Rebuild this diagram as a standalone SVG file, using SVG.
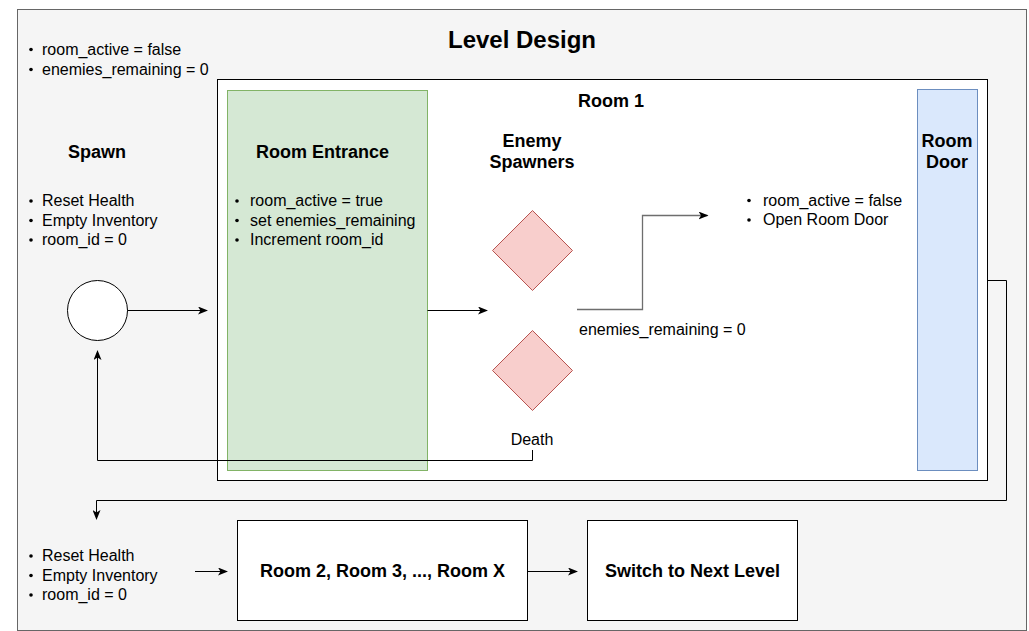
<svg xmlns="http://www.w3.org/2000/svg" width="1029" height="631" viewBox="0 0 1029 631">
<style>
text{font-family:"Liberation Sans",Arial,Helvetica,sans-serif;fill:#000;}
.t{font-size:16px;}
.b{font-size:18px;font-weight:bold;}
.h{font-size:24px;font-weight:bold;}
.dot{fill:#000;}
.ln{fill:none;stroke:#000;stroke-width:1;}
</style>
<defs>
<marker id="arr" viewBox="0 0 10 8" refX="9" refY="4" markerWidth="10" markerHeight="8" markerUnits="userSpaceOnUse" orient="auto">
<path d="M0,0 L10,4 L0,8 L2.5,4 z" fill="#000"/>
</marker>
</defs>
<g id="level">
<rect x="17.5" y="9.5" width="1009" height="621" fill="#f5f5f5" stroke="#666666"/>
<text class="h" x="522" y="48" text-anchor="middle">Level Design</text>
<circle class="dot" cx="31" cy="49.5" r="1.8"/><text class="t" x="42" y="54.5">room_active = false</text>
<circle class="dot" cx="31" cy="69.5" r="1.8"/><text class="t" x="42" y="74.5">enemies_remaining = 0</text>
</g>
<g id="room1">
<rect x="217.5" y="79.5" width="770" height="401" fill="#ffffff" stroke="#000"/>
<text class="b" x="611" y="107" text-anchor="middle">Room 1</text>
</g>
<g id="spawn">
<text class="b" x="97" y="157.5" text-anchor="middle">Spawn</text>
<circle class="dot" cx="31" cy="201" r="1.8"/><text class="t" x="42" y="206">Reset Health</text>
<circle class="dot" cx="31" cy="220.5" r="1.8"/><text class="t" x="42" y="225.5">Empty Inventory</text>
<circle class="dot" cx="31" cy="240" r="1.8"/><text class="t" x="42" y="245">room_id = 0</text>
<circle cx="97.5" cy="310.5" r="30" fill="#ffffff" stroke="#000"/>
</g>
<g id="entrance">
<rect x="227.5" y="90.5" width="200" height="380" fill="#d5e8d4" stroke="#82b366"/>
<text class="b" x="256" y="157.5">Room Entrance</text>
<circle class="dot" cx="237" cy="201" r="1.8"/><text class="t" x="250" y="206">room_active = true</text>
<circle class="dot" cx="237" cy="220.5" r="1.8"/><text class="t" x="250" y="225.5">set enemies_remaining</text>
<circle class="dot" cx="237" cy="240" r="1.8"/><text class="t" x="250" y="245">Increment room_id</text>
</g>
<g id="spawners">
<text class="b" x="532" y="146.5" text-anchor="middle">Enemy</text>
<text class="b" x="532" y="168" text-anchor="middle">Spawners</text>
<path d="M532.5,210.5 L572.5,250.5 L532.5,290.5 L492.5,250.5 Z" fill="#f8cecc" stroke="#b85450"/>
<path d="M532.5,330.5 L572.5,370.5 L532.5,410.5 L492.5,370.5 Z" fill="#f8cecc" stroke="#b85450"/>
<text class="t" x="532" y="445" text-anchor="middle">Death</text>
</g>
<g id="clear">
<circle class="dot" cx="749" cy="200.5" r="1.8"/><text class="t" x="763" y="205.5">room_active = false</text>
<circle class="dot" cx="749" cy="220" r="1.8"/><text class="t" x="763" y="225">Open Room Door</text>
<text class="t" x="579" y="335">enemies_remaining = 0</text>
</g>
<g id="door">
<rect x="917.5" y="89.5" width="60" height="381" fill="#dae8fc" stroke="#6c8ebf"/>
<text class="b" x="947" y="146.5" text-anchor="middle">Room</text>
<text class="b" x="947" y="168" text-anchor="middle">Door</text>
</g>
<g id="bottomleft">
<circle class="dot" cx="31" cy="556" r="1.8"/><text class="t" x="42" y="561">Reset Health</text>
<circle class="dot" cx="31" cy="575.5" r="1.8"/><text class="t" x="42" y="580.5">Empty Inventory</text>
<circle class="dot" cx="31" cy="595" r="1.8"/><text class="t" x="42" y="600">room_id = 0</text>
</g>
<g id="rooms">
<rect x="237.5" y="520.5" width="290" height="100" fill="#ffffff" stroke="#000"/>
<text class="b" x="382.5" y="577" text-anchor="middle">Room 2, Room 3, ..., Room X</text>
</g>
<g id="next">
<rect x="587.5" y="520.5" width="210" height="100" fill="#ffffff" stroke="#000"/>
<text class="b" x="692.5" y="577" text-anchor="middle">Switch to Next Level</text>
</g>
<g id="connectors">
<path class="ln" d="M127.5,310.5 L207,310.5" marker-end="url(#arr)"/>
<path class="ln" d="M427.5,310.5 L487,310.5" marker-end="url(#arr)"/>
<path d="M577,309.5 L642.5,309.5 L642.5,215.5 L707.5,215.5" fill="none" stroke="#6e6e6e" stroke-width="1.3" marker-end="url(#arr)"/>
<path class="ln" d="M532.5,450 L532.5,460.5 L97.5,460.5 L97.5,351" marker-end="url(#arr)"/>
<path class="ln" d="M987.5,280.5 L1006.5,280.5 L1006.5,500.5 L96.5,500.5 L96.5,519" marker-end="url(#arr)"/>
<path class="ln" d="M195,571.5 L227,571.5" marker-end="url(#arr)"/>
<path class="ln" d="M527.5,571.5 L577,571.5" marker-end="url(#arr)"/>
</g>
</svg>
